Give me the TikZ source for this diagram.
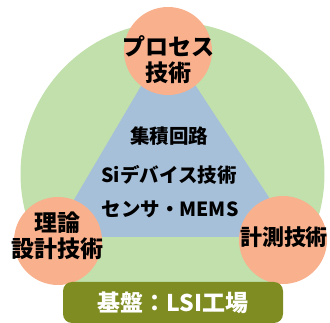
\documentclass[tikz,border=0pt]{standalone}
\usepackage{fontspec}
\setmainfont{Noto Sans CJK JP}
\usetikzlibrary{positioning}

\definecolor{ringgreen}{RGB}{193,224,172}
\definecolor{coreblue}{RGB}{167,192,218}
\definecolor{skillorange}{RGB}{248,176,141}
\definecolor{baseolive}{RGB}{127,140,33}

\tikzset{
  skill/.style={circle, fill=skillorange, minimum size=88pt, inner sep=0pt},
  skilltext/.style={align=center, inner sep=0pt, font=\bfseries\fontsize{23}{26}\selectfont},
  core/.style={inner sep=0pt, font=\bfseries\fontsize{19.5}{22}\selectfont},
}

\begin{document}
\begin{tikzpicture}[x=1pt,y=-1pt]
                \useasboundingbox (0,0) rectangle (330,323);
                % ring and core
                \fill[ringgreen] (172.5,174) circle (152);
                \fill[coreblue] (167,42) -- (295,237) -- (52,237) -- cycle;
                \node[core] (ic) at (169,136) {集積回路};
                \node[core] (sidev) at (169,175) {Siデバイス技術};
                \node[core] (mems) at (170,209) {センサ・MEMS};
                % the three skills
                \node[skill] (process) at (168,51) {};
                \node[skilltext] (processtext) at ([yshift=-9pt]process.center) {プロセス\\技術};
                \node[skill] (theory) at (58,241) {};
                \node[skilltext] (theorytext) at ([yshift=5pt]theory.center) {理論\\設計技術};
                \node[skill] (measure) at (283,240) {};
                \node[skilltext, font=\bfseries\fontsize{22}{24}\selectfont] (measuretext) at ([xshift=1pt,yshift=3pt]measure.center) {計測技術};
                % base
                \node[fill=baseolive, rounded corners=9pt, minimum width=220pt, minimum height=41pt,
                      text=white, font=\bfseries\fontsize{23}{25}\selectfont] (base) at (173,302.5) {基盤：LSI工場};
            \end{tikzpicture}
\end{document}
